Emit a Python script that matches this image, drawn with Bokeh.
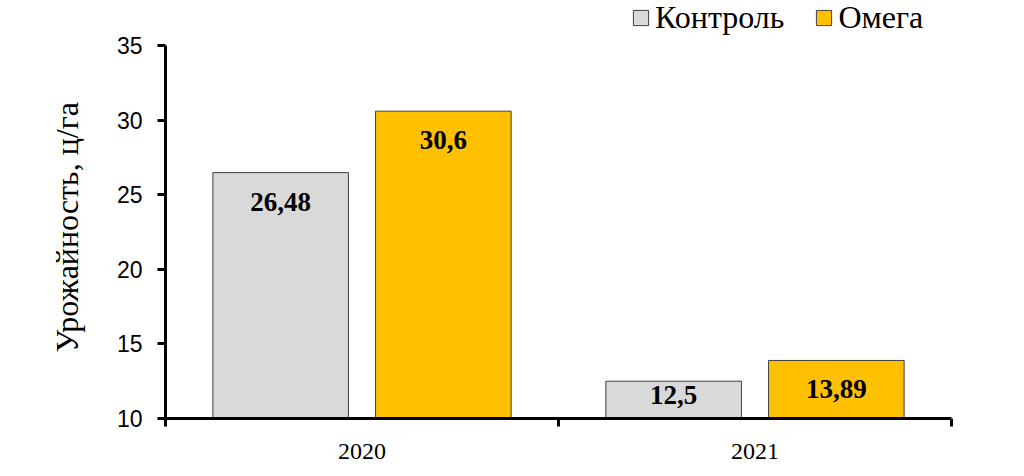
import numpy as np
from bokeh.plotting import figure
from bokeh.models import ColumnDataSource, Range1d, FixedTicker, Legend, LegendItem, Title
from bokeh.transform import dodge
from bokeh.core.properties import value
from bokeh.embed import file_html
from bokeh.resources import INLINE

# ---- data ----
years = ["2020", "2021"]
series_names = ["Контроль", "Омега"]
control = [26.48, 12.5]
omega = [30.6, 13.89]
control_labels = ["26,48", "12,5"]
omega_labels = ["30,6", "13,89"]
y_ticks = [10, 15, 20, 25, 30, 35]
y_title = "Урожайность, ц/га"

Y0, Y1 = 10, 35
SERIF = "Liberation Serif"
SANS = "Liberation Sans"

# layout: frame spans full top so the legend (drawn inside the frame) is not clipped
FRAME_BOTTOM = 418      # px from figure top
AXIS_TOP = 45           # px where value 35 sits
H = 470
px_per_unit = (FRAME_BOTTOM - AXIS_TOP) / (Y1 - Y0)
Y_TOP = Y1 + AXIS_TOP / px_per_unit

p = figure(width=1008, height=H, output_backend="svg", toolbar_location=None,
           x_range=Range1d(0, len(years)), y_range=Range1d(Y0, Y_TOP),
           min_border_left=165, min_border_right=57, min_border_top=0,
           min_border_bottom=H - FRAME_BOTTOM)
p.outline_line_color = None
p.grid.visible = False
p.background_fill_color = "white"
p.border_fill_color = "white"

def label_pos(vals):
    return [max(v - 29 / px_per_unit, Y0 + 24 / px_per_unit) for v in vals]

xc = np.arange(len(years)) + 0.5
src_c = ColumnDataSource(dict(x=xc, top=control, lab=control_labels, ly=label_pos(control)))
src_o = ColumnDataSource(dict(x=xc, top=omega, lab=omega_labels, ly=label_pos(omega)))

off = 0.207
bw = 0.345
r_c = p.vbar(x=dodge("x", -off), top="top", bottom=Y0, width=bw, source=src_c,
             fill_color="#D9D9D9", line_color="#404040", line_width=1)
r_o = p.vbar(x=dodge("x", off), top="top", bottom=Y0, width=bw, source=src_o,
             fill_color="#FFC000", line_color="#404040", line_width=1)

for src, o in ((src_c, -off), (src_o, off)):
    p.text(x=dodge("x", o), y="ly", text="lab", source=src,
           text_font=value(SERIF), text_font_style="bold", text_font_size="27px",
           text_align="center", text_baseline="middle", text_color="black")

# ---- axes ----
xa = p.xaxis[0]
xa.ticker = FixedTicker(ticks=list(xc), minor_ticks=list(range(len(years) + 1)))
xa.major_label_overrides = {float(x): y for x, y in zip(xc, years)}
xa.major_tick_line_color = None
xa.major_tick_out = 0
xa.major_tick_in = 0
xa.minor_tick_line_color = "black"
xa.minor_tick_line_width = 3
xa.minor_tick_out = 8
xa.minor_tick_in = 0
xa.axis_line_width = 3
xa.axis_line_color = "black"
xa.major_label_text_font = SERIF
xa.major_label_text_font_size = "24px"
xa.major_label_text_color = "black"
xa.major_label_standoff = 17

ya = p.yaxis[0]
ya.ticker = FixedTicker(ticks=y_ticks)
ya.bounds = (Y0, Y1)
ya.axis_line_width = 3
ya.axis_line_color = "black"
ya.major_tick_line_width = 3
ya.major_tick_line_color = "black"
ya.major_tick_out = 8
ya.major_tick_in = 0
ya.minor_tick_line_color = None
ya.major_label_text_font = SANS
ya.major_label_text_font_size = "23px"
ya.major_label_text_color = "black"
ya.major_label_standoff = 15

# y-axis title, placed in the left panel so it can be centred on the 10..35 span
p.add_layout(Title(text=y_title, align="left", offset=FRAME_BOTTOM - 352,
                   text_font=SERIF, text_font_size="32px", text_font_style="normal",
                   text_color="black", standoff=58, vertical_align="bottom"), "left")

legend = Legend(items=[LegendItem(label=series_names[0], renderers=[r_c]),
                       LegendItem(label=series_names[1], renderers=[r_o])],
                orientation="horizontal", location=(466, 382),
                glyph_width=19, glyph_height=19, label_standoff=5, spacing=30,
                padding=0, margin=0, border_line_color=None, background_fill_alpha=0,
                label_text_font=SERIF, label_text_font_size="32px", label_text_color="black")
p.add_layout(legend, "center")

open("out.html", "w").write(file_html(p, INLINE))
